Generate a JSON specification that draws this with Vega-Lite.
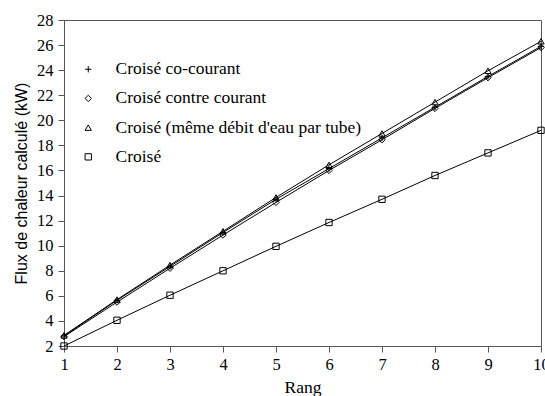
{
  "$schema": "https://vega.github.io/schema/vega-lite/v6.json",
  "width": 477,
  "height": 326,
  "autosize": {"type": "none"},
  "padding": {"left": 64, "top": 20, "right": 4, "bottom": 50},
  "background": "white",
  "config": {
    "view": {"stroke": "#555", "strokeWidth": 1},
    "font": "Liberation Serif",
    "axis": {"grid": false, "domainColor": "#555", "tickColor": "#555", "labelFont": "Liberation Serif", "titleFont": "Liberation Serif", "labelFontSize": 16.5, "titleFontSize": 17.5, "titleFontWeight": "normal", "labelColor": "black", "titleColor": "black", "tickSize": 6},
    "legend": {"labelFont": "Liberation Serif"}
  },
  "data": {"values": [
    {"rang": 1, "serie": "Croisé co-courant", "flux": 2.8},
    {"rang": 2, "serie": "Croisé co-courant", "flux": 5.65},
    {"rang": 3, "serie": "Croisé co-courant", "flux": 8.35},
    {"rang": 4, "serie": "Croisé co-courant", "flux": 11.05},
    {"rang": 5, "serie": "Croisé co-courant", "flux": 13.7},
    {"rang": 6, "serie": "Croisé co-courant", "flux": 16.15},
    {"rang": 7, "serie": "Croisé co-courant", "flux": 18.6},
    {"rang": 8, "serie": "Croisé co-courant", "flux": 21.05},
    {"rang": 9, "serie": "Croisé co-courant", "flux": 23.5},
    {"rang": 10, "serie": "Croisé co-courant", "flux": 25.9},
    {"rang": 1, "serie": "Croisé contre courant", "flux": 2.75},
    {"rang": 2, "serie": "Croisé contre courant", "flux": 5.5},
    {"rang": 3, "serie": "Croisé contre courant", "flux": 8.2},
    {"rang": 4, "serie": "Croisé contre courant", "flux": 10.85},
    {"rang": 5, "serie": "Croisé contre courant", "flux": 13.45},
    {"rang": 6, "serie": "Croisé contre courant", "flux": 16.0},
    {"rang": 7, "serie": "Croisé contre courant", "flux": 18.45},
    {"rang": 8, "serie": "Croisé contre courant", "flux": 20.95},
    {"rang": 9, "serie": "Croisé contre courant", "flux": 23.4},
    {"rang": 10, "serie": "Croisé contre courant", "flux": 25.8},
    {"rang": 1, "serie": "Croisé (même débit d'eau par tube)", "flux": 2.85},
    {"rang": 2, "serie": "Croisé (même débit d'eau par tube)", "flux": 5.7},
    {"rang": 3, "serie": "Croisé (même débit d'eau par tube)", "flux": 8.45},
    {"rang": 4, "serie": "Croisé (même débit d'eau par tube)", "flux": 11.15},
    {"rang": 5, "serie": "Croisé (même débit d'eau par tube)", "flux": 13.85},
    {"rang": 6, "serie": "Croisé (même débit d'eau par tube)", "flux": 16.45},
    {"rang": 7, "serie": "Croisé (même débit d'eau par tube)", "flux": 18.95},
    {"rang": 8, "serie": "Croisé (même débit d'eau par tube)", "flux": 21.45},
    {"rang": 9, "serie": "Croisé (même débit d'eau par tube)", "flux": 23.95},
    {"rang": 10, "serie": "Croisé (même débit d'eau par tube)", "flux": 26.3},
    {"rang": 1, "serie": "Croisé", "flux": 2.0},
    {"rang": 2, "serie": "Croisé", "flux": 4.05},
    {"rang": 3, "serie": "Croisé", "flux": 6.05},
    {"rang": 4, "serie": "Croisé", "flux": 8.0},
    {"rang": 5, "serie": "Croisé", "flux": 9.95},
    {"rang": 6, "serie": "Croisé", "flux": 11.85},
    {"rang": 7, "serie": "Croisé", "flux": 13.7},
    {"rang": 8, "serie": "Croisé", "flux": 15.6},
    {"rang": 9, "serie": "Croisé", "flux": 17.4},
    {"rang": 10, "serie": "Croisé", "flux": 19.2}
  ]},
  "encoding": {
    "x": {"field": "rang", "type": "quantitative", "scale": {"domain": [1, 10], "nice": false}, "axis": {"title": "Rang", "values": [1,2,3,4,5,6,7,8,9,10], "labelFlush": false, "labelPadding": 4, "titlePadding": 6}},
    "y": {"field": "flux", "type": "quantitative", "scale": {"domain": [2, 28], "nice": false}, "axis": {"title": "Flux de chaleur calculé (kW)", "titleFont": "Liberation Sans", "titleFontSize": 16, "values": [2,4,6,8,10,12,14,16,18,20,22,24,26,28], "labelFlush": false, "labelPadding": 5, "titlePadding": 7}}
  },
  "layer": [
    {
      "mark": {"type": "line", "color": "black", "strokeWidth": 1},
      "encoding": {"detail": {"field": "serie"}}
    },
    {
      "mark": {"type": "point", "filled": false, "color": "black", "strokeWidth": 1, "opacity": 1},
      "encoding": {
        "shape": {"field": "serie", "type": "nominal",
          "scale": {"domain": ["Croisé co-courant", "Croisé contre courant", "Croisé (même débit d'eau par tube)", "Croisé"],
                    "range": ["M-1,0H1M0,-1V1", "diamond", "triangle-up", "square"]},
          "legend": {"title": null, "orient": "none", "legendX": 15.5, "legendY": 40.5, "labelFont": "Liberation Serif", "labelFontSize": 17.5, "labelColor": "black", "labelLimit": 400, "rowPadding": 10.2, "symbolSize": 40, "symbolStrokeColor": "black", "symbolStrokeWidth": 1, "symbolFillColor": "transparent", "labelOffset": 18.5}
        },
        "size": {"value": 40}
      }
    }
  ]
}
